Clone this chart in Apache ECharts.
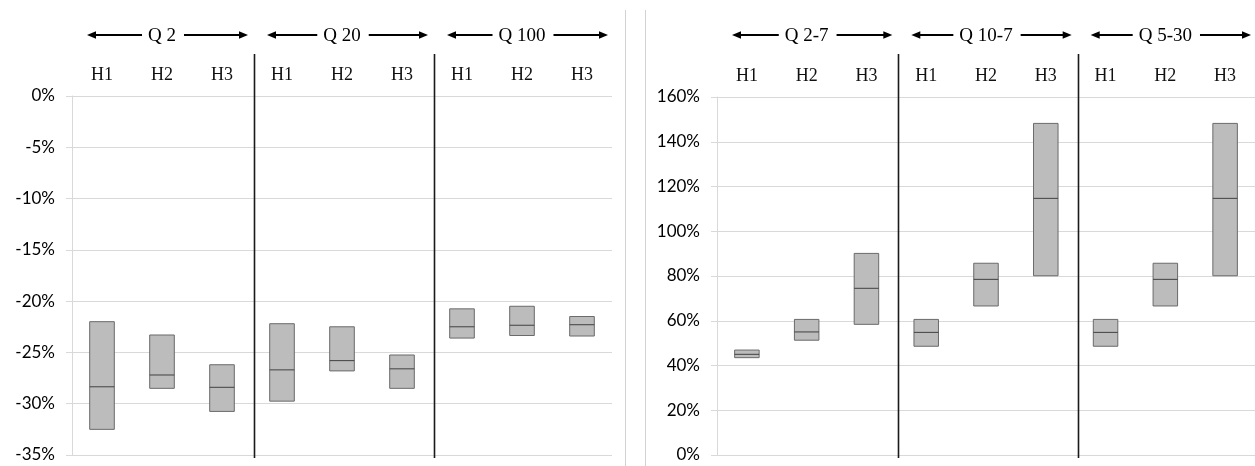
<!DOCTYPE html>
<html>
<head>
<meta charset="utf-8">
<script src="https://cdn.jsdelivr.net/npm/echarts@6/dist/echarts.min.js"></script>
<style>
  html, body { margin: 0; padding: 0; background: #ffffff; }
  #chart { width: 1255px; height: 466px; }
</style>
</head>
<body>
<div id="chart"></div>
<script>
// Category labels
const hLabels = ['H1', 'H2', 'H3'];
const leftGroups = ['Q 2', 'Q 20', 'Q 100'];
const rightGroups = ['Q 2-7', 'Q 10-7', 'Q 5-30'];

// Left panel: change ranges (%), three H cases per Q group
const leftLow  = [-32.5, -28.5, -30.75, -29.75, -26.8, -28.5, -23.6, -23.35, -23.4];
const leftMid  = [-28.35, -27.2, -28.4, -26.7, -25.8, -26.6, -22.5, -22.35, -22.3];
const leftHigh = [-22.0, -23.3, -26.2, -22.2, -22.5, -25.25, -20.75, -20.5, -21.5];

// Right panel: change ranges (%)
const rightLow  = [43.5, 51.3, 58.4, 48.6, 66.6, 80.1, 48.6, 66.6, 80.1];
const rightMid  = [45.0, 55.0, 74.5, 54.8, 78.5, 114.7, 54.8, 78.5, 114.7];
const rightHigh = [46.9, 60.6, 90.1, 60.6, 85.7, 148.2, 60.6, 85.7, 148.2];

// Y axis ticks
const leftTicks = [-35, -30, -25, -20, -15, -10, -5, 0];
const rightTicks = [0, 20, 40, 60, 80, 100, 120, 140, 160];

const catData = (groups) => groups.flatMap(() => hLabels);
const rows = (lo, mid, hi) => lo.map((v, i) => [i, v, mid[i], hi[i]]);

const serif = '"Liberation Serif", "Times New Roman", serif';
const sans = 'Lato, "Open Sans", sans-serif';
const gridColor = '#d9d9d9';

function renderBox(params, api) {
  const x = api.value(0);
  const pLo = api.coord([x, api.value(1)]);
  const pMid = api.coord([x, api.value(2)]);
  const pHi = api.coord([x, api.value(3)]);
  const w = api.size([1, 0])[0] * 0.41;
  return {
    type: 'group',
    children: [
      {
        type: 'rect',
        shape: { x: pLo[0] - w / 2, y: pHi[1], width: w, height: pLo[1] - pHi[1] },
        style: { fill: '#bcbcbc', stroke: '#6a6a6a', lineWidth: 1 }
      },
      {
        type: 'line',
        shape: { x1: pMid[0] - w / 2, y1: pMid[1], x2: pMid[0] + w / 2, y2: pMid[1] },
        style: { stroke: '#404040', lineWidth: 1 }
      }
    ]
  };
}

function yAxis(gridIndex, ticks) {
  return {
    type: 'value',
    gridIndex,
    min: ticks[0],
    max: ticks[ticks.length - 1],
    interval: ticks[1] - ticks[0],
    axisLine: { show: true, lineStyle: { color: gridColor, width: 1 } },
    axisTick: { show: true, length: 6, lineStyle: { color: gridColor } },
    splitLine: { show: true, lineStyle: { color: gridColor, width: 1 } },
    axisLabel: {
      formatter: (v) => v + '%',
      fontFamily: sans, fontSize: 17, color: '#000', margin: 17
    }
  };
}

function xAxis(gridIndex, groups) {
  return {
    type: 'category',
    gridIndex,
    position: 'top',
    data: catData(groups),
    boundaryGap: true,
    axisLine: { show: false },
    axisTick: { show: false },
    splitLine: { show: false },
    axisLabel: { fontFamily: serif, fontSize: 18, color: '#111', margin: 12, interval: 0 }
  };
}

const chart = echarts.init(document.getElementById('chart'), null, { renderer: 'canvas' });

chart.setOption({
  backgroundColor: '#ffffff',
  animation: false,
  grid: [
    { left: 72, top: 96, width: 540, height: 359, containLabel: false },
    { left: 717, top: 97, width: 539, height: 358, containLabel: false }
  ],
  xAxis: [xAxis(0, leftGroups), xAxis(1, rightGroups)],
  yAxis: [yAxis(0, leftTicks), yAxis(1, rightTicks)],
  series: [
    {
      type: 'custom', xAxisIndex: 0, yAxisIndex: 0,
      renderItem: renderBox, data: rows(leftLow, leftMid, leftHigh),
      encode: { x: 0, y: [1, 2, 3] }
    },
    {
      type: 'custom', xAxisIndex: 1, yAxisIndex: 1,
      renderItem: renderBox, data: rows(rightLow, rightMid, rightHigh),
      encode: { x: 0, y: [1, 2, 3] }
    }
  ]
});

// Group headers with arrows and black group separators
const headerFont = '19px ' + serif;
const measure = document.createElement('canvas').getContext('2d');
measure.font = headerFont;

function arrow(x1, x2, y, headAtStart) {
  const tip = headAtStart ? x1 : x2;
  const dir = headAtStart ? 1 : -1;
  return [
    {
      type: 'line',
      shape: { x1: headAtStart ? x1 + 6 : x1, y1: y, x2: headAtStart ? x2 : x2 - 6, y2: y },
      style: { stroke: '#000', lineWidth: 2.2 }
    },
    {
      type: 'polygon',
      shape: { points: [[tip, y], [tip + dir * 9, y - 3.8], [tip + dir * 9, y + 3.8]] },
      style: { fill: '#000' }
    }
  ];
}

const elements = [];
[[0, leftGroups], [1, rightGroups]].forEach(([axisIdx, groups]) => {
  const px = (v) => chart.convertToPixel({ xAxisIndex: axisIdx }, v);
  const step = px(1) - px(0);
  groups.forEach((name, g) => {
    const start = px(g * 3) - step / 2;
    const end = px(g * 3 + 2) + step / 2;
    const c = (start + end) / 2;
    const tw = measure.measureText(name).width;
    const y = 35;
    elements.push({
      type: 'text',
      style: {
        text: name, x: c, y: y + 1, align: 'center', verticalAlign: 'middle',
        font: headerFont, fill: '#000'
      }
    });
    elements.push(...arrow(start + 15, c - tw / 2 - 6, y, true));
    elements.push(...arrow(c + tw / 2 + 8, end - 4, y, false));
    if (g > 0) {
      const sx = Math.round(start + 2) + 0.5;
      elements.push({
        type: 'line',
        shape: { x1: sx, y1: 54, x2: sx, y2: 458 },
        style: { stroke: '#1a1a1a', lineWidth: 1.6 }
      });
    }
  });
});

// Panel frame edges between the two panels
elements.push({
  type: 'line', shape: { x1: 625.5, y1: 10, x2: 625.5, y2: 466 },
  style: { stroke: '#d2d2d2', lineWidth: 1 }
});
elements.push({
  type: 'line', shape: { x1: 645.5, y1: 10, x2: 645.5, y2: 466 },
  style: { stroke: '#d2d2d2', lineWidth: 1 }
});

chart.setOption({ graphic: { elements } });
</script>
</body>
</html>
